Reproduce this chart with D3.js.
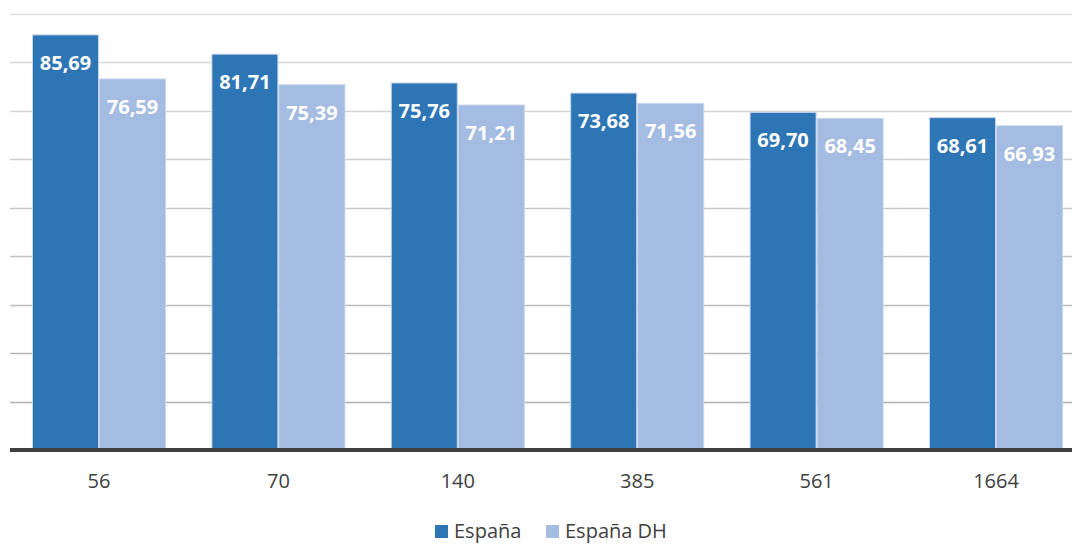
<!DOCTYPE html>
<html>
<head>
<meta charset="utf-8">
<script src="https://cdn.jsdelivr.net/npm/d3@7"></script>
<style>
  html, body { margin: 0; padding: 0; background: #fff; }
  svg { display: block; font-family: "Open Sans", "Noto Sans", sans-serif; }
</style>
</head>
<body>
<svg id="chart" width="1072" height="544"></svg>
<script>
const categories = ["56", "70", "140", "385", "561", "1664"];
const seriesNames = ["España", "España DH"];
const espana   = [85.69, 81.71, 75.76, 73.68, 69.70, 68.61];
const espanaDH = [76.59, 75.39, 71.21, 71.56, 68.45, 66.93];
const yTicks = [0, 10, 20, 30, 40, 50, 60, 70, 80, 90];
const colors = ["#2e75b6", "#a4bce1"];

const svg = d3.select("#chart");
const W = 1072, H = 544;
const plot = { left: 9.3, right: 1085.7, top: 14, bottom: 450 };

const rows = categories.map((c, i) => ({ cat: c, values: [espana[i], espanaDH[i]] }));

const x0 = d3.scaleBand()
  .domain(categories)
  .range([plot.left, plot.right])
  .paddingInner(0.253)
  .paddingOuter(0.1265);

const x1 = d3.scaleBand()
  .domain([0, 1])
  .range([0, x0.bandwidth()])
  .padding(0);

const y = d3.scaleLinear()
  .domain([0, 90])
  .range([plot.bottom, plot.top]);

const fmt = v => v.toFixed(2).replace(".", ",");

// horizontal gridlines
const gridShade = d3.scaleLinear().domain([90, 10]).range(["#dedede", "#b0b0b0"]);
svg.append("g")
  .selectAll("line")
  .data(yTicks.filter(t => t > 0))
  .join("line")
  .attr("x1", 10)
  .attr("x2", W)
  .attr("y1", d => Math.round(y(d)) + 0.5)
  .attr("y2", d => Math.round(y(d)) + 0.5)
  .attr("stroke", d => gridShade(d))
  .attr("stroke-width", 1.5);

// grouped bars
const groups = svg.append("g")
  .selectAll("g")
  .data(rows)
  .join("g")
  .attr("transform", d => `translate(${x0(d.cat)},0)`);

groups.selectAll("rect")
  .data(d => d.values.map((v, k) => ({ v, k })))
  .join("rect")
  .attr("x", d => x1(d.k) + 0.5)
  .attr("width", x1.bandwidth() - 1)
  .attr("y", d => y(d.v))
  .attr("height", d => y(0) - y(d.v))
  .attr("fill", d => colors[d.k])
  .attr("stroke", "#c6d5ec")
  .attr("stroke-width", 1);

// value labels inside the bar tops
groups.selectAll("text")
  .data(d => d.values.map((v, k) => ({ v, k })))
  .join("text")
  .attr("x", d => x1(d.k) + x1.bandwidth() / 2)
  .attr("y", d => y(d.v) + 35)
  .attr("text-anchor", "middle")
  .attr("fill", "#ffffff")
  .attr("font-size", 20)
  .attr("font-weight", 700)
  .text(d => fmt(d.v));

// category axis
const xAxis = svg.append("g")
  .attr("transform", `translate(0,${plot.bottom})`)
  .call(d3.axisBottom(x0).tickSize(0).tickPadding(24));
xAxis.select(".domain").remove();
xAxis.selectAll("text")
  .attr("font-size", 20)
  .attr("font-family", "\"Open Sans\", sans-serif")
  .attr("fill", "#404040");

// baseline
svg.append("line")
  .attr("x1", 10)
  .attr("x2", W)
  .attr("y1", y(0))
  .attr("y2", y(0))
  .attr("stroke", "#404040")
  .attr("stroke-width", 4);

// legend
const legend = svg.append("g").attr("transform", "translate(435,525)");
const legendX = [0, 111];
seriesNames.forEach((name, k) => {
  const g = legend.append("g").attr("transform", `translate(${legendX[k]},0)`);
  g.append("rect")
    .attr("width", 13)
    .attr("height", 13)
    .attr("fill", colors[k]);
  g.append("text")
    .attr("x", 19)
    .attr("y", 13)
    .attr("font-size", 20)
    .attr("fill", "#404040")
    .text(name);
});
</script>
</body>
</html>
